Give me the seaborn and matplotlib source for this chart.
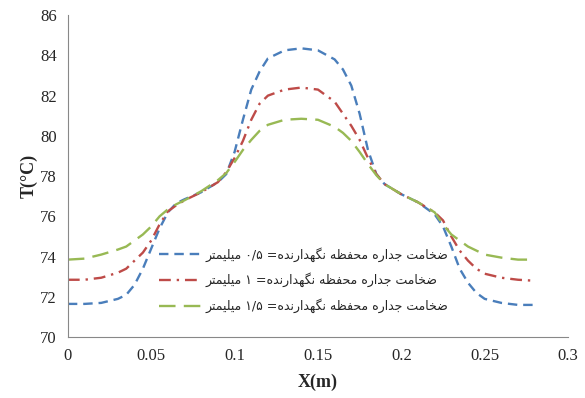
import pandas as pd
import seaborn as sns
from matplotlib import pyplot as plt

# data
x_m = [0, 0.01, 0.02, 0.03, 0.035, 0.04, 0.045, 0.05, 0.055, 0.06, 0.065, 0.07,
       0.08, 0.09, 0.095, 0.1, 0.105, 0.11, 0.115, 0.12, 0.13, 0.14, 0.15, 0.16,
       0.165, 0.17, 0.175, 0.18, 0.185, 0.19, 0.2, 0.21, 0.22, 0.225, 0.23, 0.235,
       0.24, 0.245, 0.25, 0.26, 0.27, 0.28]
t_05 = [71.65, 71.65, 71.7, 71.9, 72.1, 72.6, 73.4, 74.4, 75.4, 76.2, 76.65, 76.85,
        77.2, 77.7, 78.1, 79.2, 80.8, 82.3, 83.2, 83.85, 84.25, 84.35, 84.25, 83.8,
        83.3, 82.5, 81.1, 79.3, 78.1, 77.6, 77.1, 76.7, 76.1, 75.5, 74.5, 73.4,
        72.7, 72.2, 71.9, 71.7, 71.6, 71.6]
t_10 = [72.85, 72.85, 72.95, 73.2, 73.4, 73.8, 74.2, 74.8, 75.6, 76.25, 76.55, 76.8,
        77.2, 77.7, 78.2, 78.9, 79.75, 80.8, 81.6, 82.0, 82.3, 82.4, 82.3, 81.7,
        81.1, 80.5, 79.8, 78.9, 78.1, 77.6, 77.1, 76.7, 76.2, 75.8, 75.0, 74.3,
        73.8, 73.4, 73.15, 72.95, 72.85, 72.8]
t_15 = [73.85, 73.9, 74.1, 74.35, 74.5, 74.8, 75.1, 75.5, 76.0, 76.35, 76.6, 76.8,
        77.25, 77.8, 78.15, 78.7, 79.3, 79.8, 80.25, 80.55, 80.8, 80.85, 80.8, 80.45,
        80.15, 79.75, 79.2, 78.6, 78.05, 77.6, 77.1, 76.7, 76.2, 75.6, 75.1, 74.8,
        74.5, 74.3, 74.1, 73.95, 73.85, 73.85]
labels = ["ضخامت جداره محفظه نگهدارنده= ۰/۵ میلیمتر",
          "ضخامت جداره محفظه نگهدارنده= ۱ میلیمتر",
          "ضخامت جداره محفظه نگهدارنده= ۱/۵ میلیمتر"]
x_ticks = [0, 0.05, 0.1, 0.15, 0.2, 0.25, 0.3]
x_tick_labels = ["0", "0.05", "0.1", "0.15", "0.2", "0.25", "0.3"]
y_ticks = [70, 72, 74, 76, 78, 80, 82, 84, 86]

# arabic letter forms: isolated, final, initial, medial
FORMS = {
    "ض": "\uFEBD\uFEBE\uFEBF\uFEC0", "خ": "\uFEA5\uFEA6\uFEA7\uFEA8",
    "ا": "\uFE8D\uFE8E", "م": "\uFEE1\uFEE2\uFEE3\uFEE4",
    "ت": "\uFE95\uFE96\uFE97\uFE98", "ج": "\uFE9D\uFE9E\uFE9F\uFEA0",
    "د": "\uFEA9\uFEAA", "ر": "\uFEAD\uFEAE",
    "ه": "\uFEE9\uFEEA\uFEEB\uFEEC", "ح": "\uFEA1\uFEA2\uFEA3\uFEA4",
    "ف": "\uFED1\uFED2\uFED3\uFED4", "ظ": "\uFEC5\uFEC6\uFEC7\uFEC8",
    "ن": "\uFEE5\uFEE6\uFEE7\uFEE8", "گ": "\uFB92\uFB93\uFB94\uFB95",
    "ی": "\uFBFC\uFBFD\uFBFE\uFBFF", "ل": "\uFEDD\uFEDE\uFEDF\uFEE0",
}


def shape_word(w):
    out = []
    for i, c in enumerate(w):
        f = FORMS.get(c)
        if f is None:
            out.append(c)
            continue
        prev = w[i - 1] if i > 0 else ""
        nxt = w[i + 1] if i + 1 < len(w) else ""
        join_prev = prev in FORMS and len(FORMS[prev]) == 4
        join_next = nxt in FORMS and len(f) == 4
        if join_prev and join_next:
            out.append(f[3])
        elif join_prev:
            out.append(f[1])
        elif join_next:
            out.append(f[2])
        else:
            out.append(f[0])
    return "".join(out)


def visual(text):
    # right-to-left: reverse word order, reverse glyphs inside arabic words
    parts = []
    for tok in reversed(text.split(" ")):
        if tok[0] in FORMS:
            tail = ""
            if tok.endswith("="):
                tok, tail = tok[:-1], "="
            parts.append(tail + shape_word(tok)[::-1])
        else:
            parts.append(tok)
    return " ".join(parts)


df = pd.DataFrame({"x": x_m * 3, "T": t_05 + t_10 + t_15,
                   "s": [labels[0]] * len(x_m) + [labels[1]] * len(x_m) + [labels[2]] * len(x_m)})

sns.set_style("white")
plt.rcParams['font.family'] = ['Liberation Serif', 'DejaVu Sans']

fig, ax = plt.subplots(figsize=(5.85, 3.98), dpi=100)
fig.subplots_adjust(left=0.116, right=0.971, bottom=0.153, top=0.962)

colors = ["#4A7EBB", "#BE4B48", "#98B954"]
styles = [(0, (4, 2.5)), (0, (5, 2.5, 1, 2.5)), (0, (7, 3.5))]
for lab, c, ls in zip(labels, colors, styles):
    sns.lineplot(data=df[df.s == lab], x="x", y="T", color=c, linestyle=ls,
                 linewidth=1.7, label=visual(lab), ax=ax)

ax.set_xlim(0, 0.3)
ax.set_ylim(70, 86)
ax.set_xticks(x_ticks)
ax.set_xticklabels(x_tick_labels)
ax.set_yticks(y_ticks)
ax.tick_params(labelsize=12, length=0, pad=8)
for side in ["top", "right"]:
    ax.spines[side].set_visible(False)
for side in ["left", "bottom"]:
    ax.spines[side].set_color("#888888")
ax.set_xlabel("X(m)", fontsize=13, fontweight="bold", labelpad=7)
ax.set_ylabel("T(°C)", fontsize=13, fontweight="bold", labelpad=2)

leg = ax.legend(loc="upper left", bbox_to_anchor=(0.16, 0.315), frameon=False,
                handlelength=3.4, handletextpad=0.3, labelspacing=0.88,
                prop={"family": ["DejaVu Sans"], "size": 9})

plt.savefig("out.png", dpi=100)
